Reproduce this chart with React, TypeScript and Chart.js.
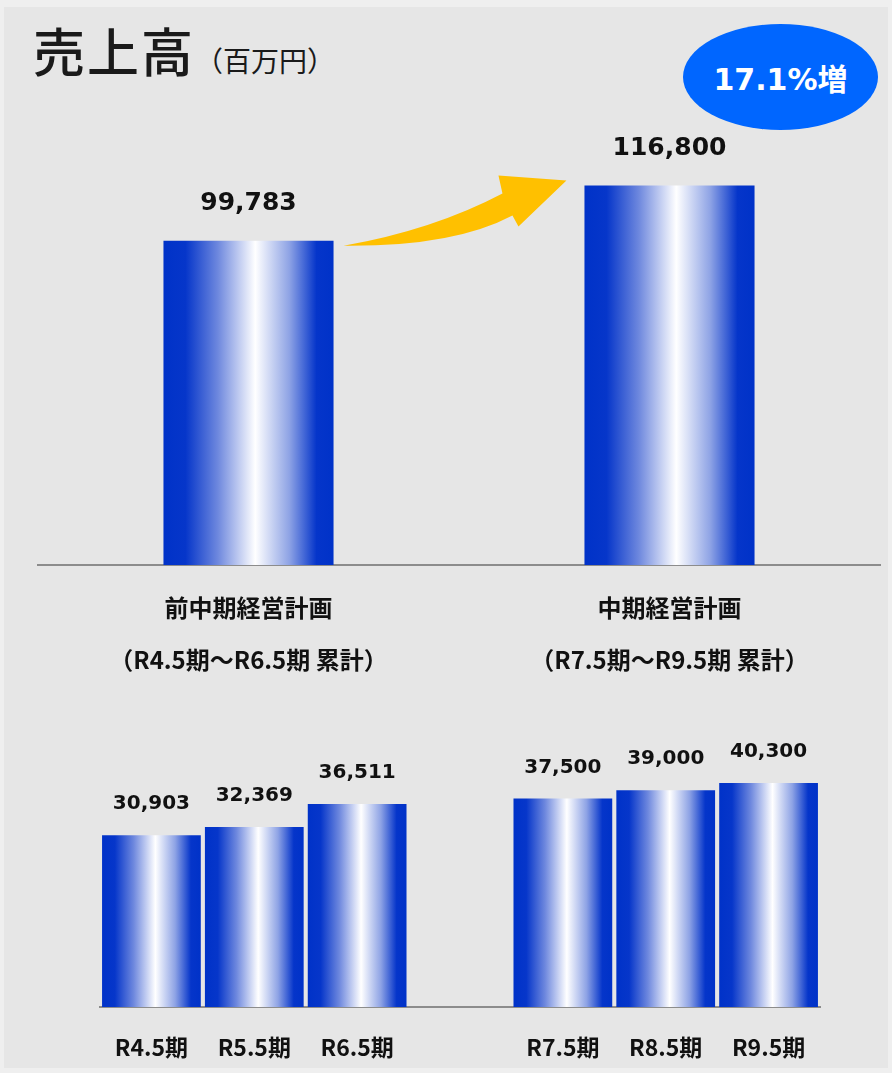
import { useEffect, useRef } from 'react';
import { Chart, registerables } from 'chart.js';

Chart.register(...registerables);

// 中期経営計画の累計
const planLabels = [
    ['前中期経営計画', '（R4.5期～R6.5期 累計）'],
    ['中期経営計画', '（R7.5期～R9.5期 累計）'],
];
const planTotals = [99783, 116800];

// 各期
const prevYears = ['R4.5期', 'R5.5期', 'R6.5期'];
const prevSales = [30903, 32369, 36511];
const planYears = ['R7.5期', 'R8.5期', 'R9.5期'];
const planSales = [37500, 39000, 40300];

const growthText = '17.1%増';

const BLUE = '#0032c8';
const NUM_FONT = "'DejaVu Sans', 'Noto Sans CJK JP', sans-serif";
const JP_FONT = "'Noto Sans CJK JP', sans-serif";

// bar fill: horizontal metallic gradient, computed from the x scale
const barFill = (pct: number) => (c: any) => {
    const chart = c.chart;
    const x = chart.scales?.x;
    if (!x || c.dataIndex == null || !x.width) return BLUE;
    const slot = x.width / chart.data.labels.length;
    const mid = x.getPixelForValue(c.dataIndex);
    const half = (slot * pct) / 2;
    const g = chart.ctx.createLinearGradient(mid - half, 0, mid + half, 0);
    g.addColorStop(0, BLUE);
    g.addColorStop(0.13, '#0636ca');
    g.addColorStop(0.32, '#6e88de');
    g.addColorStop(0.54, '#ffffff');
    g.addColorStop(0.74, '#8ea3e5');
    g.addColorStop(0.9, '#0535ca');
    g.addColorStop(1, BLUE);
    return g;
};

const valueLabels = (size: number, gap: number) => ({
    id: 'valueLabels',
    afterDatasetsDraw(chart: any) {
        const { ctx } = chart;
        const meta = chart.getDatasetMeta(0);
        const values = chart.data.datasets[0].data;
        ctx.save();
        ctx.font = `bold ${size}px ${NUM_FONT}`;
        ctx.fillStyle = '#111';
        ctx.textAlign = 'center';
        ctx.textBaseline = 'middle';
        meta.data.forEach((bar: any, i: number) => {
            const v = values[i];
            if (v == null) return;
            ctx.fillText(v.toLocaleString('en-US'), bar.x, bar.y - gap);
        });
        ctx.restore();
    }
});

// curved yellow arrow from the first bar to the second
const arrowPlugin = {
    id: 'growthArrow',
    afterDatasetsDraw(chart: any) {
        const bars = chart.getDatasetMeta(0).data;
        if (bars.length < 2) return;
        const a = bars[0], b = bars[1];
        const tx = a.x + a.width / 2 + 10, ty = a.y + 5;
        const px = b.x - b.width / 2 - 18, py = b.y - 5;
        const { ctx } = chart;
        ctx.save();
        ctx.fillStyle = '#ffc000';
        ctx.beginPath();
        ctx.moveTo(tx, ty);
        ctx.quadraticCurveTo(tx + 90, ty - 16, px - 64, py + 13);
        ctx.lineTo(px - 68, py - 5);
        ctx.lineTo(px, py);
        ctx.lineTo(px - 48, py + 46);
        ctx.lineTo(px - 54, py + 35);
        ctx.quadraticCurveTo(tx + 110, ty + 1, tx, ty);
        ctx.closePath();
        ctx.fill();
        ctx.restore();
    }
};

const TotalsChart = () => {
    const ref = useRef<HTMLCanvasElement | null>(null);
    useEffect(() => {
        if (!ref.current) return;
        const chart = new Chart(ref.current, {
            type: 'bar',
            data: {
                labels: planLabels,
                datasets: [{
                    data: planTotals,
                    backgroundColor: barFill(0.404),
                    barPercentage: 0.404,
                    categoryPercentage: 1,
                    borderWidth: 0,
                }]
            },
            options: {
                animation: false,
                responsive: false,
                maintainAspectRatio: false,
                layout: { padding: { left: 38, right: 12, top: 110, bottom: 0 } },
                plugins: { legend: { display: false }, tooltip: { enabled: false } },
                scales: {
                    x: {
                        grid: { display: false, drawTicks: false },
                        border: { display: true, color: '#8c8c8c', width: 2 },
                        ticks: {
                            color: '#111',
                            padding: 16,
                            font: { family: JP_FONT, size: 24, weight: 'bold', lineHeight: 2.2 },
                        },
                        afterFit: (s: any) => { s.height = 155; },
                    },
                    y: { display: false, min: 0, max: 140000 }
                }
            } as any,
            plugins: [valueLabels(25, 37), arrowPlugin]
        });
        return () => chart.destroy();
    }, []);
    return <canvas ref={ref} width={892} height={720}
        style={{ position: 'absolute', left: 0, top: 0, width: 892, height: 720 }} />;
};

const YearlyChart = () => {
    const ref = useRef<HTMLCanvasElement | null>(null);
    useEffect(() => {
        if (!ref.current) return;
        // blank slot between the two plan periods
        const labels = [...prevYears, '', ...planYears];
        const values = [...prevSales, null, ...planSales];
        const chart = new Chart(ref.current, {
            type: 'bar',
            data: {
                labels,
                datasets: [{
                    data: values,
                    backgroundColor: barFill(0.96),
                    barPercentage: 0.96,
                    categoryPercentage: 1,
                    borderWidth: 0,
                }]
            },
            options: {
                animation: false,
                responsive: false,
                maintainAspectRatio: false,
                layout: { padding: { left: 100, right: 72, top: 9, bottom: 0 } },
                plugins: { legend: { display: false }, tooltip: { enabled: false } },
                scales: {
                    x: {
                        grid: { display: false, drawTicks: false },
                        border: { display: true, color: '#8c8c8c', width: 2 },
                        ticks: {
                            color: '#111',
                            padding: 26,
                            font: { family: JP_FONT, size: 23, weight: 'bold', lineHeight: 1.2 },
                        },
                        afterFit: (s: any) => { s.height = 66; },
                    },
                    y: { display: false, min: 0, max: 50000 }
                }
            } as any,
            plugins: [valueLabels(20, 31)]
        });
        return () => chart.destroy();
    }, []);
    return <canvas ref={ref} width={892} height={353}
        style={{ position: 'absolute', left: 0, top: 720, width: 892, height: 353 }} />;
};

export default function App() {
    return (
        <div style={{ position: 'absolute', left: 0, top: 0, width: 892, height: 1073, background: '#efefef', overflow: 'hidden' }}>
            <div style={{ position: 'absolute', left: 4, top: 7, right: 4, bottom: 5, background: '#e6e6e6' }} />
            <div style={{ position: 'absolute', left: 33, top: 24, lineHeight: 1, color: '#1a1a1a', fontFamily: JP_FONT, whiteSpace: 'nowrap' }}>
                <span style={{ fontSize: 52, fontWeight: 500, letterSpacing: 2 }}>売上高</span>
                <span style={{ fontSize: 28, fontWeight: 400 }}>（百万円）</span>
            </div>
            <div style={{
                position: 'absolute', left: 683, top: 24, width: 195, height: 106, borderRadius: '50%',
                background: '#0066ff', color: '#fff', display: 'flex', alignItems: 'center', justifyContent: 'center',
                fontFamily: NUM_FONT, fontWeight: 'bold', fontSize: 30,
            }}>{growthText}</div>
            <TotalsChart />
            <YearlyChart />
        </div>
    );
}
